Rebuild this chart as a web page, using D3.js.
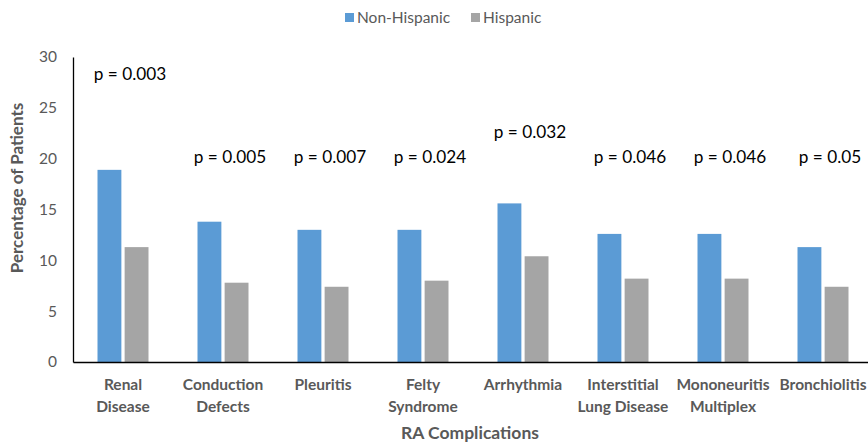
<!DOCTYPE html>
<html><head><meta charset="utf-8">
<script src="https://cdn.jsdelivr.net/npm/d3@7"></script>
<style>body{margin:0;background:#fff}text{font-family:Lato,"Open Sans",sans-serif}</style>
</head><body><svg id="c" width="868" height="442"></svg>
<script>
const categories = ["Renal Disease","Conduction Defects","Pleuritis","Felty Syndrome","Arrhythmia","Interstitial Lung Disease","Mononeuritis Multiplex","Bronchiolitis"];
const categoryLines = [["Renal","Disease"],["Conduction","Defects"],["Pleuritis"],["Felty","Syndrome"],["Arrhythmia"],["Interstitial","Lung Disease"],["Mononeuritis","Multiplex"],["Bronchiolitis"]];
const nonHispanic = [18.9, 13.8, 13.0, 13.0, 15.6, 12.6, 12.6, 11.3];
const hispanic = [11.3, 7.8, 7.4, 8.0, 10.4, 8.2, 8.2, 7.4];
const pValues = ["p = 0.003","p = 0.005","p = 0.007","p = 0.024","p = 0.032","p = 0.046","p = 0.046","p = 0.05"];
const pLabelLevel = [28.3, 20.2, 20.2, 20.2, 22.6, 20.2, 20.2, 20.2];
const yTicks = [0,5,10,15,20,25,30];
const seriesNames = ["Non-Hispanic","Hispanic"];
const colors = ["#5B9BD5","#A5A5A5"];

const svg = d3.select("#c");
const mLeft = 73, mRight = 873, mTop = 57, mBottom = 362;
const x = d3.scaleBand().domain(categories).range([mLeft, mRight]).paddingInner(0).paddingOuter(0);
const y = d3.scaleLinear().domain([0,30]).range([mBottom, mTop]);
const x1 = d3.scaleBand().domain(seriesNames).range([x.bandwidth()*0.245, x.bandwidth()*0.755]).paddingInner(0.12);

const series = [nonHispanic, hispanic];
categories.forEach((c,i)=>{
  series.forEach((s,j)=>{
    svg.append("rect")
      .attr("x", x(c)+x1(seriesNames[j]))
      .attr("y", y(s[i]))
      .attr("width", x1.bandwidth())
      .attr("height", y(0)-y(s[i]))
      .attr("fill", colors[j]);
  });
});

// y axis
const ya = svg.append("g").attr("transform",`translate(${mLeft},0)`)
  .call(d3.axisLeft(y).tickValues(yTicks).tickSize(0).tickPadding(16));
ya.select(".domain").attr("stroke","#000").attr("stroke-width",1.3);
ya.selectAll("text").attr("font-size",15.5).attr("fill","#595959").style("font-family","Lato,'Open Sans',sans-serif");

// x axis
const xa = svg.append("g").attr("transform",`translate(0,${mBottom})`)
  .call(d3.axisBottom(x).tickSize(0).tickFormat(""));
xa.select(".domain").attr("stroke","#000").attr("stroke-width",1.3);
categories.forEach((c,i)=>{
  const t = svg.append("text").attr("x", x(c)+x.bandwidth()/2).attr("y", 390)
    .attr("text-anchor","middle").attr("font-size",15.5).attr("font-weight","bold").attr("fill","#595959");
  categoryLines[i].forEach((ln,k)=>{
    t.append("tspan").attr("x", x(c)+x.bandwidth()/2).attr("dy", k===0?0:22).text(ln);
  });
});

// p-value labels
categories.forEach((c,i)=>{
  svg.append("text").attr("x", x(c)+x.bandwidth()/2+7).attr("y", y(pLabelLevel[i]))
    .attr("dy","0.35em").attr("text-anchor","middle").attr("font-size",17.2).attr("fill","#000").text(pValues[i]);
});

// axis titles
svg.append("text").attr("transform","translate(23,188) rotate(-90)").attr("text-anchor","middle")
  .attr("font-size",17).attr("font-weight","bold").attr("fill","#595959").text("Percentage of Patients");
svg.append("text").attr("x",470).attr("y",439).attr("text-anchor","middle")
  .attr("font-size",17.5).attr("font-weight","bold").attr("fill","#595959").text("RA Complications");

// legend
const lg = [{x:345},{x:471}];
seriesNames.forEach((n,j)=>{
  svg.append("rect").attr("x",lg[j].x).attr("y",13).attr("width",9).attr("height",9).attr("fill",colors[j]);
  svg.append("text").attr("x",lg[j].x+12).attr("y",17.5).attr("dy","0.35em").attr("font-size",15.5).attr("fill","#595959").text(n);
});
</script></body></html>
